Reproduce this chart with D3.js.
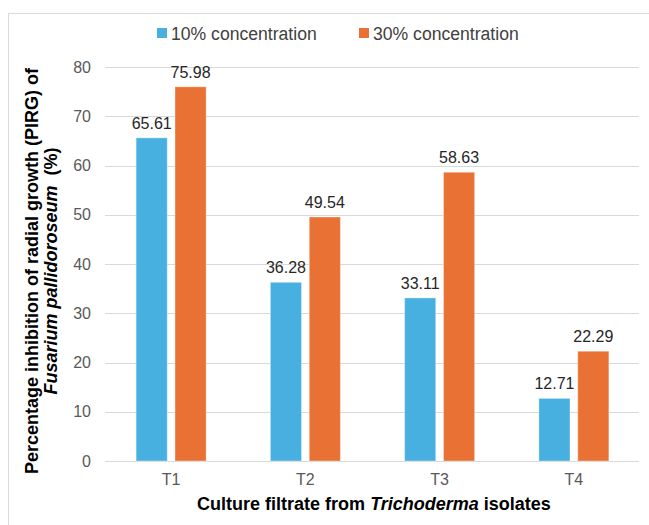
<!DOCTYPE html>
<html>
<head>
<meta charset="utf-8">
<script src="https://cdn.jsdelivr.net/npm/d3@7"></script>
<style>
  html, body { margin: 0; padding: 0; background: #fff; }
  svg { display: block; font-family: "Liberation Sans", Arial, sans-serif; }
</style>
</head>
<body>
<svg id="chart" width="649" height="525"></svg>
<script>
// Culture filtrate isolates and inhibition (%) at two concentrations
const categories = ["T1", "T2", "T3", "T4"];
const seriesNames = ["10% concentration", "30% concentration"];
const conc10 = [65.61, 36.28, 33.11, 12.71];
const conc30 = [75.98, 49.54, 58.63, 22.29];
const yTicks = [0, 10, 20, 30, 40, 50, 60, 70, 80];
const colors = ["#47b0e1", "#e97133"];

const svg = d3.select("#chart");

// outer frame
svg.append("rect")
  .attr("x", 8.5).attr("y", 13.5)
  .attr("width", 660).attr("height", 530)
  .attr("fill", "none").attr("stroke", "#d9d9d9").attr("stroke-width", 1);

const x0 = d3.scaleBand().domain(categories).range([104, 641]).padding(0);
const x1 = d3.scaleBand().domain(seriesNames).range([-35, 35]).paddingInner(0.2).paddingOuter(0);
const y = d3.scaleLinear().domain([0, 80]).range([461, 67]);

// gridlines
svg.append("g").selectAll("line").data(yTicks).join("line")
  .attr("x1", 105).attr("x2", 639)
  .attr("y1", d => Math.round(y(d)) + 0.5).attr("y2", d => Math.round(y(d)) + 0.5)
  .attr("stroke", "#d9d9d9").attr("stroke-width", 1);

// y axis labels
const yAxis = d3.axisLeft(y).tickValues(yTicks).tickSize(0).tickPadding(0);
const gy = svg.append("g").attr("transform", "translate(91,0)").call(yAxis);
gy.select(".domain").remove();
gy.selectAll("text").attr("font-size", 16).attr("fill", "#595959")
  .attr("font-family", "Liberation Sans, Arial, sans-serif");

// x axis labels
const xAxis = d3.axisBottom(x0).tickSize(0).tickPadding(0);
const gx = svg.append("g").attr("transform", "translate(0,474)").call(xAxis);
gx.select(".domain").remove();
gx.selectAll("text").attr("font-size", 16).attr("fill", "#595959")
  .attr("font-family", "Liberation Sans, Arial, sans-serif");

// bars
const rows = categories.map((c, i) => ({ cat: c, vals: [conc10[i], conc30[i]] }));
const groups = svg.append("g").selectAll("g").data(rows).join("g")
  .attr("transform", d => `translate(${x0(d.cat) + x0.bandwidth() / 2},0)`);

groups.selectAll("rect")
  .data(d => d.vals.map((v, j) => ({ name: seriesNames[j], v, j })))
  .join("rect")
  .attr("x", d => x1(d.name))
  .attr("width", x1.bandwidth())
  .attr("y", d => y(d.v))
  .attr("height", d => y(0) - y(d.v))
  .attr("fill", d => colors[d.j])
  .attr("stroke", "#fff").attr("stroke-opacity", 0.35).attr("stroke-width", 1);

// value labels
groups.selectAll("text.val")
  .data(d => d.vals.map((v, j) => ({ name: seriesNames[j], v, j })))
  .join("text")
  .attr("class", "val")
  .attr("x", d => x1(d.name) + x1.bandwidth() / 2)
  .attr("y", d => y(d.v) - 9)
  .attr("text-anchor", "middle")
  .attr("font-size", 16)
  .attr("fill", "#262626")
  .text(d => d.v.toFixed(2));

// legend
const legendX = [157, 359];
const lg = svg.append("g").selectAll("g").data(seriesNames).join("g")
  .attr("transform", (d, i) => `translate(${legendX[i]},28)`);
lg.append("rect").attr("width", 10).attr("height", 10).attr("fill", (d, i) => colors[i]);
lg.append("text").attr("x", 14).attr("y", 12)
  .attr("font-size", 17.6).attr("fill", "#404040").text(d => d);

// x axis title
const xt = svg.append("text")
  .attr("x", 374).attr("y", 510)
  .attr("text-anchor", "middle")
  .attr("font-size", 18).attr("font-weight", "bold").attr("fill", "#000");
xt.append("tspan").text("Culture filtrate from ");
xt.append("tspan").attr("font-style", "italic").text("Trichoderma");
xt.append("tspan").text(" isolates");

// y axis title (two lines, rotated)
const yt = svg.append("g").attr("transform", "translate(0,271) rotate(-90)");
yt.append("text").attr("x", 0).attr("y", 38)
  .attr("text-anchor", "middle")
  .attr("font-size", 18).attr("font-weight", "bold").attr("fill", "#000")
  .text("Percentage inhibition of radial growth (PIRG) of");
const yt2 = yt.append("text").attr("x", 0).attr("y", 57)
  .attr("text-anchor", "middle")
  .attr("font-size", 18).attr("font-weight", "bold").attr("fill", "#000");
yt2.append("tspan").attr("font-style", "italic").text("Fusarium pallidoroseum");
yt2.append("tspan").attr("xml:space", "preserve").text("  (%)");
</script>
</body>
</html>
